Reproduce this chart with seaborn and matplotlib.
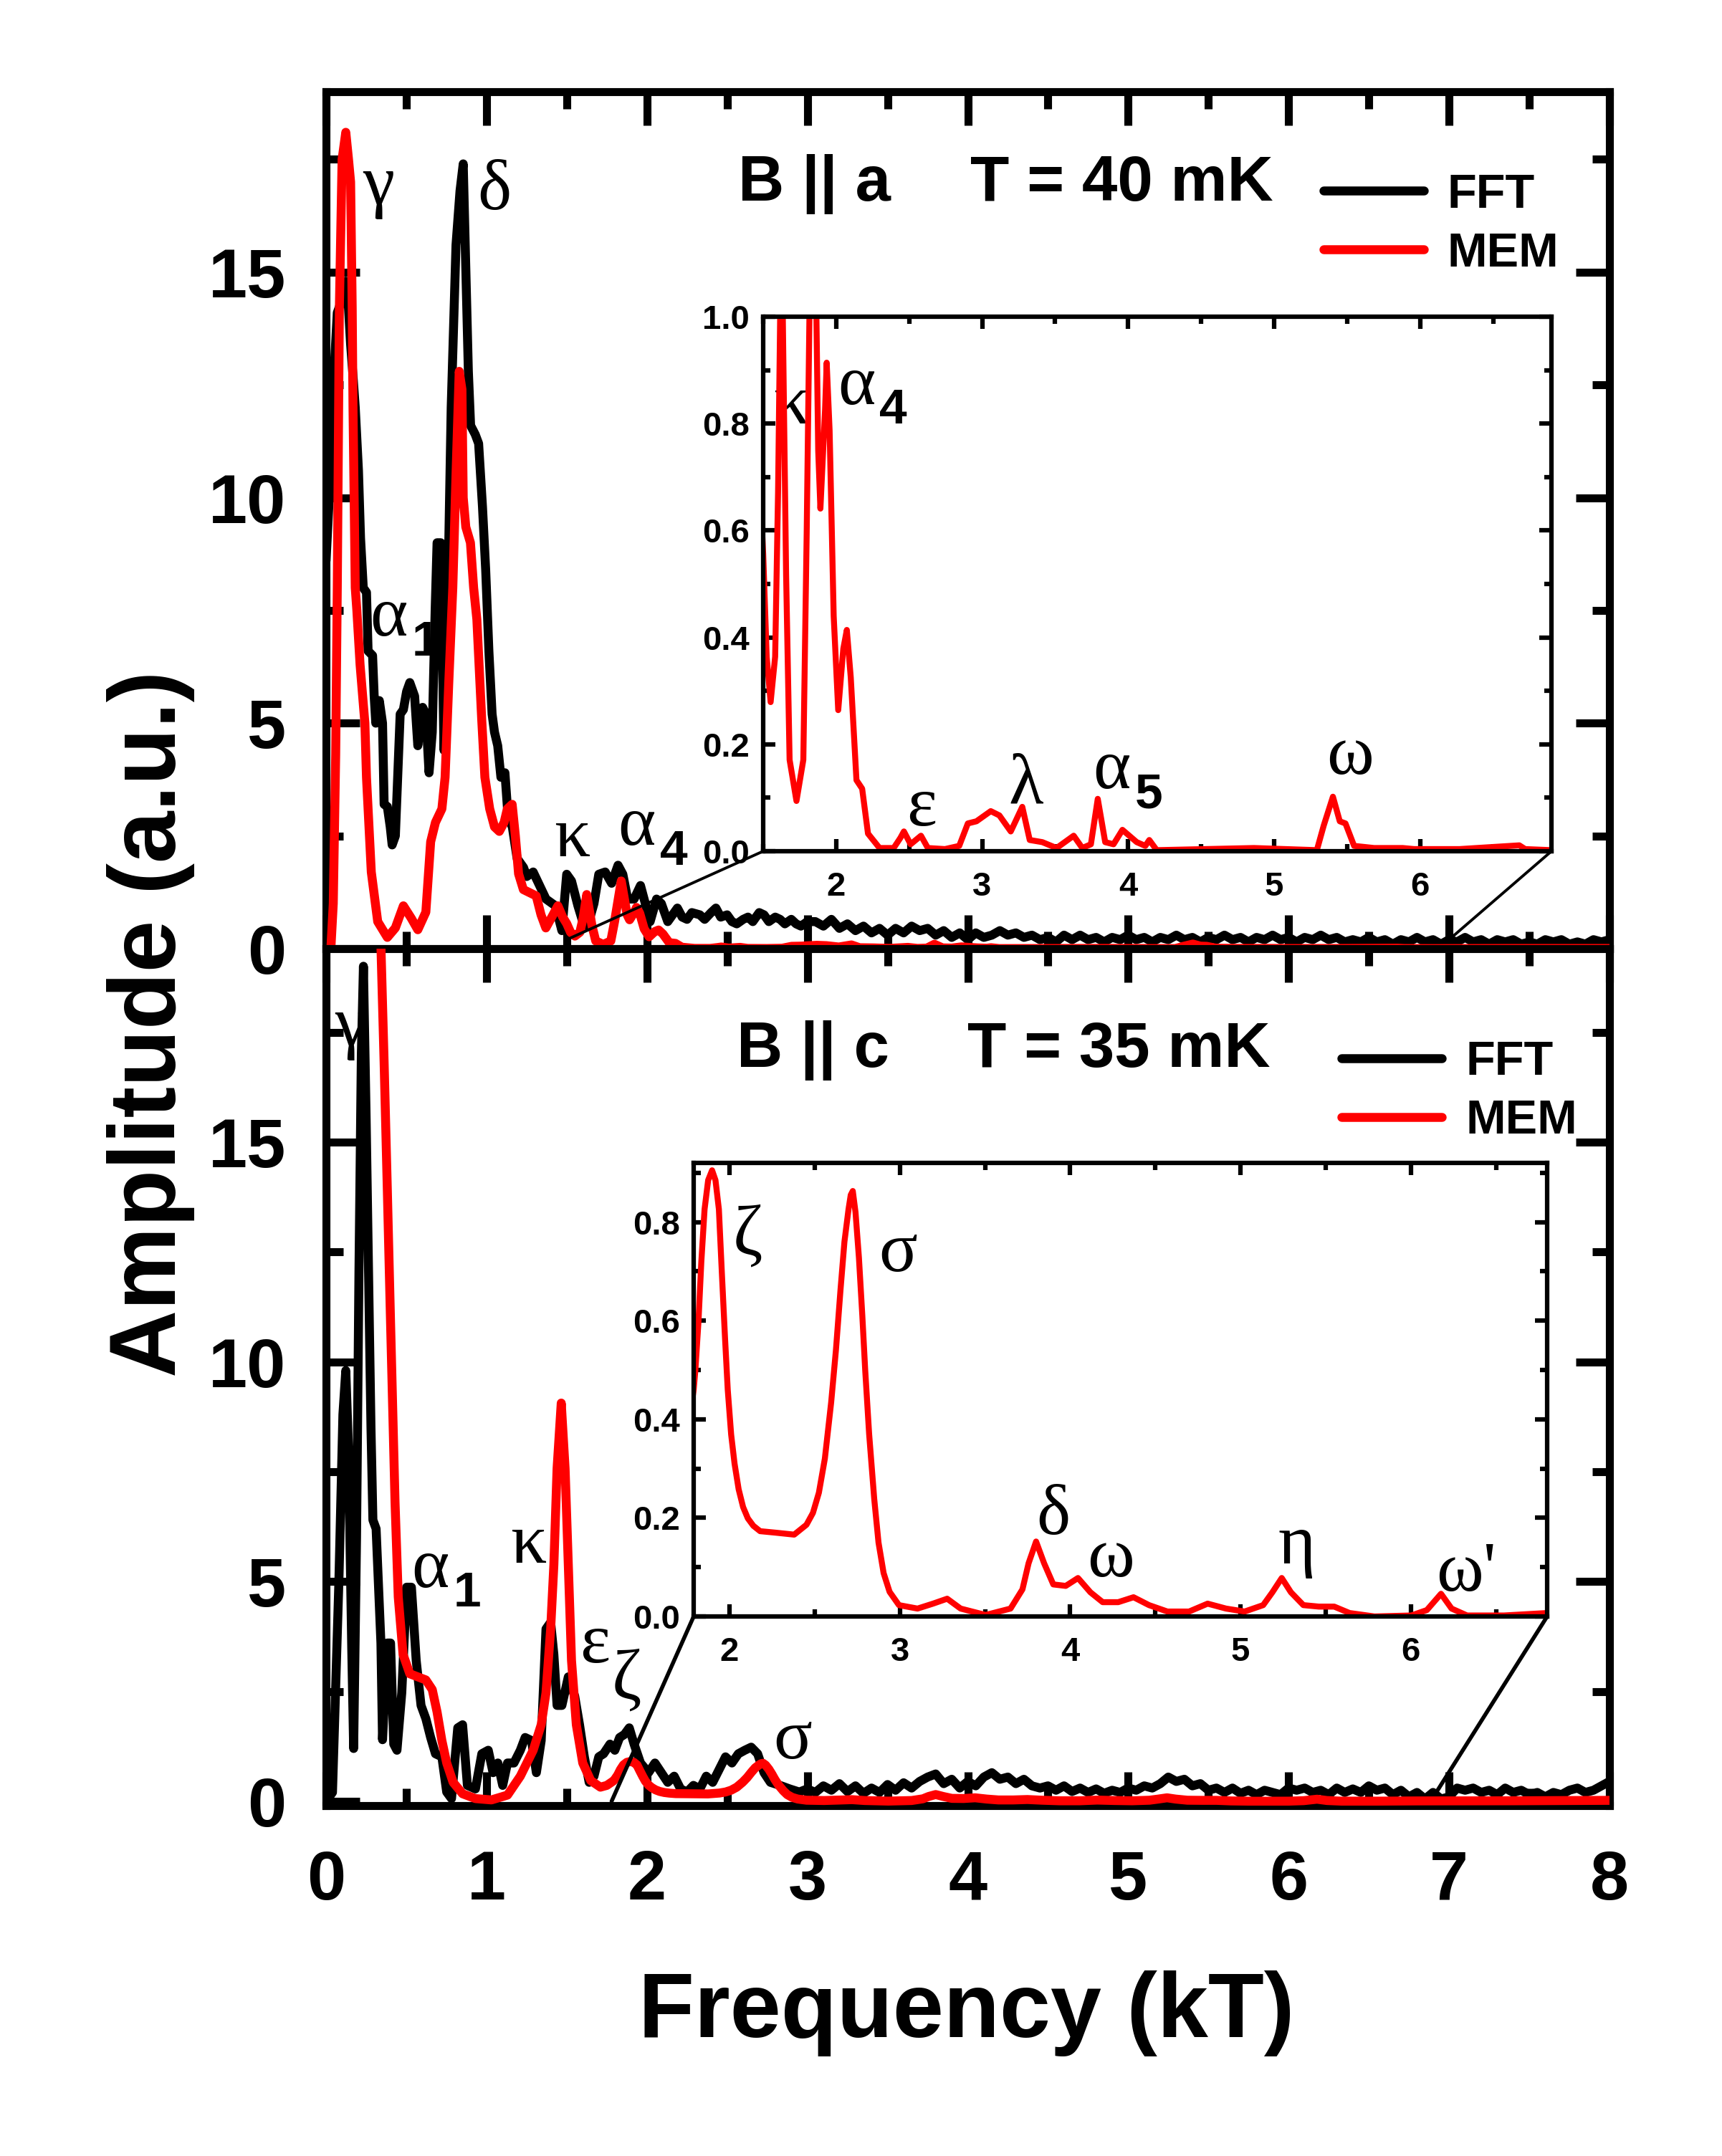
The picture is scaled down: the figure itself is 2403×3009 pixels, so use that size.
import matplotlib
matplotlib.use("Agg")
import matplotlib.pyplot as plt
import seaborn as sns
from matplotlib.patches import ConnectionPatch
from matplotlib.ticker import MultipleLocator

# ---------------- data ----------------
# Panel (a): B || a, T = 40 mK
top_fft_x = [0.000, 0.020, 0.035, 0.050, 0.070, 0.090, 0.110, 0.123, 0.140, 0.153, 0.170, 0.182, 0.202, 0.215,
             0.232, 0.252, 0.262, 0.290, 0.300, 0.310, 0.332, 0.352, 0.362, 0.382, 0.400, 0.412, 0.432, 0.462,
             0.482, 0.502, 0.522, 0.552, 0.572, 0.602, 0.622, 0.642, 0.662, 0.680, 0.692, 0.715, 0.735, 0.760,
             0.780, 0.810, 0.835, 0.855, 0.871, 0.887, 0.901, 0.930, 0.951, 0.975, 0.995, 1.015, 1.035, 1.050,
             1.070, 1.090, 1.115, 1.135, 1.161, 1.191, 1.231, 1.251, 1.291, 1.331, 1.371, 1.430, 1.470, 1.500,
             1.530, 1.570, 1.600, 1.630, 1.670, 1.700, 1.740, 1.780, 1.820, 1.850, 1.880, 1.920, 1.960, 1.990,
             2.020, 2.060, 2.090, 2.130, 2.160, 2.190, 2.220, 2.250, 2.280, 2.330, 2.360, 2.400, 2.430, 2.460,
             2.500, 2.530, 2.560, 2.600, 2.630, 2.660, 2.700, 2.730, 2.760, 2.800, 2.830, 2.860, 2.900, 2.930,
             2.960, 3.000, 3.030,
             3.05, 3.10, 3.15, 3.20, 3.25, 3.30, 3.35, 3.40, 3.45, 3.50, 3.55, 3.60, 3.65, 3.70, 3.75, 3.80,
             3.85, 3.90, 3.95, 4.00, 4.05, 4.10, 4.15, 4.20, 4.25, 4.30, 4.35, 4.40, 4.45, 4.50, 4.55, 4.60,
             4.65, 4.70, 4.75, 4.80, 4.85, 4.90, 4.95, 5.00, 5.05, 5.10, 5.15, 5.20, 5.25, 5.30, 5.35, 5.40,
             5.45, 5.50, 5.55, 5.60, 5.65, 5.70, 5.75, 5.80, 5.85, 5.90, 5.95, 6.00, 6.05, 6.10, 6.15, 6.20,
             6.25, 6.30, 6.35, 6.40, 6.45, 6.50, 6.55, 6.60, 6.65, 6.70, 6.75, 6.80, 6.85, 6.90, 6.95, 7.00,
             7.05, 7.10, 7.15, 7.20, 7.25, 7.30, 7.35, 7.40, 7.45, 7.50, 7.55, 7.60, 7.65, 7.70, 7.75, 7.80,
             7.85, 7.90, 7.95, 8.00]
top_fft_y = [8.6, 10.0, 11.2, 12.8, 14.1, 14.3, 14.7, 14.8, 14.2, 13.4, 12.6, 12.0, 10.6, 9.1,
             8.0, 7.9, 6.6, 6.5, 5.6, 5.0, 5.5, 5.0, 3.2, 3.15, 2.7, 2.3, 2.5, 5.2,
             5.3, 5.7, 5.9, 5.6, 4.5, 5.35, 5.2, 3.9, 4.8, 7.5, 9.0, 9.0, 4.4, 8.0,
             12.0, 15.6, 16.8, 17.4, 15.1, 12.8, 11.6, 11.4, 11.2, 9.8, 8.4, 6.6, 5.2, 4.8,
             4.5, 3.8, 3.9, 2.9, 2.7, 2.0, 1.8, 1.6, 1.7, 1.4, 1.1, 0.95, 0.4, 1.65,
             1.5, 0.95, 0.6, 0.5, 1.0, 1.65, 1.7, 1.45, 1.85, 1.65, 1.1, 1.1, 1.4, 1.0,
             0.6, 1.1, 1.0, 0.6, 0.75, 0.9, 0.7, 0.65, 0.8, 0.75, 0.65, 0.8, 0.9, 0.7,
             0.75, 0.6, 0.55, 0.65, 0.7, 0.6, 0.8, 0.75, 0.6, 0.7, 0.65, 0.55, 0.65, 0.55,
             0.5, 0.6, 0.6,
             0.60, 0.50, 0.65, 0.45, 0.55, 0.40, 0.50, 0.35, 0.45, 0.30, 0.45, 0.35, 0.50, 0.40, 0.45, 0.30,
             0.40, 0.25, 0.35, 0.20, 0.35, 0.25, 0.30, 0.40, 0.30, 0.35, 0.25, 0.30, 0.20, 0.25, 0.15, 0.30,
             0.20, 0.30, 0.20, 0.25, 0.15, 0.25, 0.20, 0.30, 0.20, 0.25, 0.15, 0.25, 0.20, 0.30, 0.20, 0.25,
             0.15, 0.25, 0.20, 0.30, 0.20, 0.25, 0.15, 0.25, 0.20, 0.30, 0.20, 0.25, 0.15, 0.25, 0.20, 0.30,
             0.20, 0.25, 0.15, 0.20, 0.15, 0.25, 0.15, 0.20, 0.10, 0.20, 0.15, 0.25, 0.15, 0.20, 0.10, 0.20,
             0.15, 0.25, 0.15, 0.20, 0.10, 0.20, 0.15, 0.20, 0.10, 0.15, 0.10, 0.20, 0.15, 0.20, 0.10, 0.15,
             0.10, 0.20, 0.15, 0.20]

top_mem_x = [0.030, 0.045, 0.060, 0.070, 0.083, 0.100, 0.123, 0.140, 0.153, 0.163, 0.168, 0.182, 0.192, 0.212,
             0.242, 0.252, 0.282, 0.322, 0.382, 0.432, 0.482, 0.532, 0.572, 0.622, 0.652, 0.682, 0.722, 0.742,
             0.765, 0.790, 0.810, 0.830, 0.847, 0.855, 0.871, 0.900, 0.920, 0.940, 0.970, 0.990, 1.020, 1.050,
             1.080, 1.110, 1.130, 1.160, 1.180, 1.200, 1.230, 1.270, 1.310, 1.340, 1.370, 1.410, 1.445, 1.475,
             1.500, 1.524, 1.551, 1.582, 1.602, 1.625, 1.657, 1.681, 1.728, 1.775, 1.798, 1.840, 1.877, 1.892,
             1.924, 1.935, 1.955, 1.983, 2.014, 2.049, 2.073, 2.100, 2.139, 2.178, 2.218, 2.297, 2.394, 2.440,
             2.464, 2.510, 2.581, 2.628, 2.745, 2.843, 2.902, 2.961, 3.059, 3.118, 3.196, 3.275, 3.326, 3.412,
             3.510, 3.627, 3.686, 3.745, 3.792, 3.843, 3.900, 3.961, 4.059, 4.118, 4.145, 4.196, 4.862, 5.293,
             5.340, 5.403, 5.450, 5.489, 5.548, 5.685, 5.881, 5.960, 6.270, 6.680, 6.720, 6.900, 7.400, 8.000]
top_mem_y = [0.0, 1.0, 4.3, 8.0, 14.2, 17.5, 18.1, 17.5, 17.0, 14.2, 12.0, 8.0, 7.5, 6.3,
             5.0, 3.8, 1.7, 0.6, 0.25, 0.46, 0.95, 0.67, 0.42, 0.81, 2.37, 2.8, 3.1, 3.8,
             5.9, 8.0, 10.5, 12.8, 12.4, 10.0, 9.35, 9.0, 8.0, 7.3, 5.1, 3.8, 3.1, 2.7,
             2.6, 2.8, 3.1, 3.2, 2.5, 1.66, 1.31, 1.24, 1.17, 0.75, 0.46, 0.72, 0.95, 0.70,
             0.556, 0.364, 0.279, 0.364, 0.672, 1.20, 0.518, 0.171, 0.094, 0.171, 0.595, 1.50, 0.749, 0.641,
             0.826, 0.914, 0.787, 0.440, 0.264, 0.379, 0.414, 0.325, 0.133, 0.117, 0.033, 0.006, 0.006, 0.025,
             0.037, 0.013, 0.029, 0.006, 0.004, 0.010, 0.052, 0.056, 0.075, 0.067, 0.037, 0.083, 0.021, 0.017,
             0.006, 0.029, 0.006, 0.013, 0.098, 0.017, 0.013, 0.040, 0.017, 0.010, 0.021, 0.002, 0.006, 0.002,
             0.048, 0.102, 0.056, 0.052, 0.010, 0.006, 0.006, 0.004, 0.004, 0.011, 0.004, 0.002, 0.005, 0.005]

# Panel (c): B || c, T = 35 mK
bot_fft_x = [0.000, 0.040, 0.080, 0.105, 0.123, 0.140, 0.160, 0.172, 0.190, 0.205, 0.220, 0.233, 0.250, 0.265,
             0.280, 0.292, 0.312, 0.342, 0.352, 0.382, 0.402, 0.422, 0.442, 0.472, 0.502, 0.532, 0.562, 0.592,
             0.622, 0.652, 0.682, 0.722, 0.752, 0.782, 0.821, 0.851, 0.881, 0.931, 0.971, 1.011, 1.041, 1.071,
             1.101, 1.131, 1.171, 1.211, 1.241, 1.281, 1.311, 1.341, 1.371, 1.400, 1.420, 1.440, 1.470, 1.510,
             1.550, 1.580, 1.610, 1.640, 1.670, 1.700, 1.730, 1.770, 1.800, 1.830, 1.860, 1.890, 1.920, 1.960,
             2.010, 2.050, 2.090, 2.130, 2.170, 2.210, 2.250, 2.290, 2.330, 2.370, 2.410, 2.450, 2.490, 2.530,
             2.570, 2.610, 2.650, 2.690, 2.730, 2.770, 2.830, 2.890, 2.950,
             3.00, 3.05, 3.10, 3.15, 3.20, 3.25, 3.30, 3.35, 3.40, 3.45, 3.50, 3.55, 3.60, 3.65, 3.70, 3.75,
             3.80, 3.85, 3.90, 3.95, 4.00, 4.05, 4.10, 4.15, 4.20, 4.25, 4.30, 4.35, 4.40, 4.45, 4.50, 4.55,
             4.60, 4.65, 4.70, 4.75, 4.80, 4.85, 4.90, 4.95, 5.00, 5.05, 5.10, 5.15, 5.20, 5.25, 5.30, 5.35,
             5.40, 5.45, 5.50, 5.55, 5.60, 5.65, 5.70, 5.75, 5.80, 5.85, 5.90, 5.95, 6.00, 6.05, 6.10, 6.15,
             6.20, 6.25, 6.30, 6.35, 6.40, 6.45, 6.50, 6.55, 6.60, 6.65, 6.70, 6.75, 6.80, 6.85, 6.90, 6.95,
             7.00, 7.05, 7.10, 7.15, 7.20, 7.25, 7.30, 7.35, 7.40, 7.45, 7.50, 7.55, 7.60, 7.65, 7.70, 7.75,
             7.80, 7.85, 7.90, 7.95, 8.00]
bot_fft_y = [0.0, 0.2, 5.0, 8.8, 9.8, 8.0, 3.5, 1.2, 6.0, 12.0, 17.0, 19.0, 15.5, 12.0,
             8.5, 6.4, 6.2, 3.6, 1.4, 3.6, 3.6, 1.3, 1.16, 2.47, 4.87, 4.87, 3.2, 2.18,
             1.88, 1.45, 1.08, 1.01, 0.21, 0.06, 1.67, 1.74, 0.36, 0.28, 1.08, 1.16, 0.65, 0.87,
             0.36, 0.87, 0.87, 1.16, 1.45, 1.38, 0.65, 1.38, 3.92, 4.07, 3.34, 2.18, 2.18, 2.83,
             2.39, 1.74, 1.01, 0.43, 0.57, 1.01, 1.08, 1.30, 1.16, 1.45, 1.52, 1.67, 1.30, 0.87,
             0.65, 0.87, 0.65, 0.43, 0.57, 0.28, 0.21, 0.36, 0.28, 0.57, 0.43, 0.72, 1.01, 0.87,
             1.08, 1.16, 1.23, 1.08, 0.65, 0.43, 0.36, 0.28, 0.21,
             0.28, 0.20, 0.35, 0.25, 0.40, 0.22, 0.35, 0.18, 0.30, 0.20, 0.38, 0.25, 0.42, 0.30, 0.45, 0.55,
             0.62, 0.40, 0.50, 0.30, 0.45, 0.35, 0.55, 0.65, 0.50, 0.55, 0.40, 0.50, 0.35, 0.30, 0.35, 0.25,
             0.35, 0.22, 0.30, 0.20, 0.28, 0.18, 0.25, 0.20, 0.30, 0.25, 0.35, 0.30, 0.40, 0.55, 0.45, 0.50,
             0.35, 0.40, 0.25, 0.30, 0.20, 0.30, 0.18, 0.25, 0.15, 0.25, 0.20, 0.15, 0.30, 0.25, 0.30, 0.20,
             0.25, 0.15, 0.30, 0.20, 0.28, 0.20, 0.35, 0.25, 0.30, 0.15, 0.25, 0.10, 0.20, 0.05, 0.20, 0.05,
             0.10, 0.30, 0.25, 0.30, 0.20, 0.25, 0.15, 0.30, 0.20, 0.25, 0.15, 0.20, 0.10, 0.20, 0.15, 0.25,
             0.30, 0.20, 0.25, 0.35, 0.45]

bot_mem_x = [0.330, 0.342, 0.362, 0.382, 0.402, 0.415, 0.430, 0.450, 0.480, 0.522, 0.572, 0.622, 0.662, 0.692,
             0.722, 0.752, 0.792, 0.851, 0.931, 1.031, 1.131, 1.211, 1.291, 1.341, 1.371, 1.400, 1.420, 1.440,
             1.466, 1.490, 1.510, 1.530, 1.560, 1.600, 1.650, 1.710, 1.750,
             1.790, 1.800, 1.818, 1.835, 1.854, 1.875, 1.898, 1.918, 1.938, 1.955, 1.974, 1.990, 2.010, 2.030,
             2.054, 2.080, 2.108, 2.140, 2.180, 2.270, 2.380, 2.452, 2.490, 2.525, 2.560, 2.597, 2.625, 2.652,
             2.675, 2.699, 2.712, 2.724, 2.740, 2.760, 2.780, 2.797, 2.820, 2.850, 2.875, 2.905, 2.940, 2.995,
             3.104, 3.195, 3.278, 3.357, 3.504, 3.650, 3.720, 3.756, 3.800, 3.847,
             3.901, 3.974, 4.046, 4.119, 4.191, 4.282, 4.372, 4.463, 4.571, 4.698, 4.807, 4.915, 5.024, 5.133,
             5.187, 5.242, 5.296, 5.369, 5.460, 5.550, 5.640, 5.786, 6.003, 6.094, 6.177, 6.239, 6.330, 6.547,
             6.800, 7.400, 8.000]
bot_mem_y = [21.0, 19.47, 16.8, 13.9, 10.9, 9.0, 6.8, 4.65, 3.34, 2.9, 2.83, 2.76, 2.54, 2.03,
             1.38, 0.87, 0.43, 0.17, 0.06, 0.03, 0.14, 0.57, 1.16, 1.74, 2.47, 3.92, 5.38, 7.57,
             9.06, 7.57, 5.38, 3.2, 1.74, 0.87, 0.47, 0.32, 0.36,
             0.460, 0.500, 0.597, 0.720, 0.826, 0.885, 0.905, 0.885, 0.826, 0.700, 0.565, 0.460, 0.369, 0.310,
             0.258, 0.222, 0.199, 0.184, 0.173, 0.170, 0.166, 0.186, 0.210, 0.251, 0.320, 0.434, 0.540, 0.663,
             0.760, 0.826, 0.855, 0.863, 0.820, 0.728, 0.610, 0.499, 0.370, 0.238, 0.150, 0.088, 0.050, 0.023,
             0.016, 0.026, 0.036, 0.016, 0.003, 0.016, 0.055, 0.108, 0.152, 0.108,
             0.065, 0.062, 0.078, 0.049, 0.029, 0.029, 0.039, 0.023, 0.010, 0.010, 0.026, 0.016, 0.010, 0.023,
             0.049, 0.078, 0.049, 0.023, 0.020, 0.020, 0.007, 0.000, 0.002, 0.013, 0.046, 0.016, 0.002, 0.002,
             0.007, 0.010, 0.020]

x_ticks = [0, 1, 2, 3, 4, 5, 6, 7, 8]
y_ticks = [0, 5, 10, 15]
series_names = ["FFT", "MEM"]
series_colors = ["black", "#ff0000"]

# ---------------- style ----------------
sns.set_theme(style="ticks")
plt.rcParams.update({
    "font.family": ["Liberation Sans", "DejaVu Sans"],
    "font.weight": "bold",
    "axes.edgecolor": "black",
    "xtick.color": "black",
    "ytick.color": "black",
    "text.color": "black",
    "axes.labelcolor": "black",
    "axes.facecolor": "white",
    "figure.facecolor": "white",
})
SERIF = ["Liberation Serif", "DejaVu Serif"]

W, H = 2403, 3009
fig = plt.figure(figsize=(W / 100, H / 100), dpi=100)

L, R = 455, 2246
ax_top = fig.add_axes([L / W, 1 - 1324 / H, (R - L) / W, (1324 - 128) / H])
ax_bot = fig.add_axes([L / W, 1 - 2520 / H, (R - L) / W, (2520 - 1324) / H])
in_top = fig.add_axes([1065 / W, 1 - 1188 / H, (2165 - 1065) / W, (1188 - 442) / H])
in_bot = fig.add_axes([968 / W, 1 - 2256 / H, (2159 - 968) / W, (2256 - 1623) / H])


def style_main(ax, ylim, show_xlabels):
    ax.set_xlim(0, 8)
    ax.set_ylim(*ylim)
    ax.set_xticks(x_ticks)
    ax.set_yticks(y_ticks)
    ax.xaxis.set_minor_locator(MultipleLocator(0.5))
    ax.yaxis.set_minor_locator(MultipleLocator(2.5))
    ax.tick_params(which="major", direction="in", length=34, width=8, top=True, right=True,
                   labelsize=70, pad=40)
    ax.tick_params(axis="x", which="major", pad=44)
    ax.tick_params(which="minor", direction="in", length=17, width=8, top=True, right=True)
    ax.tick_params(axis="x", labelbottom=show_xlabels)
    for s in ax.spines.values():
        s.set_linewidth(8)
        s.set_color("black")
    ax.set_xlabel("")
    ax.set_ylabel("")


def style_inset(ax, xlim, ylim, padx, pady):
    ax.set_xlim(*xlim)
    ax.set_ylim(*ylim)
    ax.xaxis.set_major_locator(MultipleLocator(1))
    ax.xaxis.set_minor_locator(MultipleLocator(0.5))
    ax.yaxis.set_major_locator(MultipleLocator(0.2))
    ax.yaxis.set_minor_locator(MultipleLocator(0.1))
    ax.yaxis.set_major_formatter(matplotlib.ticker.FormatStrFormatter("%.1f"))
    ax.tick_params(which="major", direction="in", length=12, width=4.5, top=True, right=True,
                   labelsize=34)
    ax.tick_params(axis="x", which="major", pad=padx)
    ax.tick_params(axis="y", which="major", pad=pady)
    ax.tick_params(which="minor", direction="in", length=7, width=4.5, top=True, right=True)
    for s in ax.spines.values():
        s.set_linewidth(4.5)
        s.set_color("black")
    ax.set_xlabel("")
    ax.set_ylabel("")
    ax.set_zorder(5)


def greek(ax, x, y, sym, sub=None, size=72, subsize=50):
    ax.text(x, y, sym, fontsize=size, family=SERIF, fontweight="normal",
            ha="left", va="baseline", zorder=1)
    if sub is not None:
        ax.annotate(sub, xy=(x, y), xycoords="data", xytext=(42, -20), textcoords="offset points",
                    fontsize=subsize, fontweight="bold", ha="left", va="baseline", zorder=1)


# ---------------- main panels ----------------
for ax, fx, fy, mx, my in [(ax_top, top_fft_x, top_fft_y, top_mem_x, top_mem_y),
                           (ax_bot, bot_fft_x, bot_fft_y, bot_mem_x, bot_mem_y)]:
    sns.lineplot(x=fx, y=fy, ax=ax, color=series_colors[0], linewidth=9, sort=False,
                 estimator=None, label=series_names[0], zorder=2)
    sns.lineplot(x=mx, y=my, ax=ax, color=series_colors[1], linewidth=9, sort=False,
                 estimator=None, label=series_names[1], zorder=3)
    for h in ax.get_lines()[:2]:
        h.set_solid_capstyle("round")
        h.set_solid_joinstyle("round")

style_main(ax_top, (0, 19.0), False)
style_main(ax_bot, (-0.1, 19.4), True)

leg_prop = {"family": "Liberation Sans", "weight": "bold", "size": 48}
ax_top.legend(ax_top.get_lines()[:2], series_names, loc="upper left", bbox_to_anchor=(0.777, 0.905),
              frameon=False, prop=leg_prop, handlelength=2.1, handletextpad=0.5, labelspacing=0.3,
              borderaxespad=0, borderpad=0)
ax_bot.legend(ax_bot.get_lines()[:2], series_names, loc="upper left", bbox_to_anchor=(0.791, 0.893),
              frameon=False, prop=leg_prop, handlelength=2.1, handletextpad=0.5, labelspacing=0.3,
              borderaxespad=0, borderpad=0)

ax_top.text(0.321, 0.892, "B || a", transform=ax_top.transAxes, fontsize=64, fontweight="bold",
            ha="left", va="center")
ax_top.text(0.502, 0.892, "T = 40 mK", transform=ax_top.transAxes, fontsize=64, fontweight="bold",
            ha="left", va="center")
ax_bot.text(0.320, 0.881, "B || c", transform=ax_bot.transAxes, fontsize=64, fontweight="bold",
            ha="left", va="center")
ax_bot.text(0.500, 0.881, "T = 35 mK", transform=ax_bot.transAxes, fontsize=64, fontweight="bold",
            ha="left", va="center")

greek(ax_top, 0.228, 16.5, "γ")
greek(ax_top, 0.945, 16.4, "δ")
greek(ax_top, 0.273, 6.94, "α", "1")
greek(ax_top, 1.42, 2.05, "κ")
greek(ax_top, 1.82, 2.30, "α", "4")

greek(ax_bot, 0.054, 17.2, "γ")
greek(ax_bot, 0.532, 4.88, "α", "1")
greek(ax_bot, 1.15, 5.42, "κ")
greek(ax_bot, 1.58, 3.16, "ε")
greek(ax_bot, 1.78, 2.33, "ζ")
greek(ax_bot, 2.79, 0.98, "σ")

# ---------------- insets ----------------
sns.lineplot(x=top_mem_x, y=top_mem_y, ax=in_top, color=series_colors[1], linewidth=6, sort=False,
             estimator=None, legend=False)
sns.lineplot(x=bot_mem_x, y=bot_mem_y, ax=in_bot, color=series_colors[1], linewidth=6, sort=False,
             estimator=None, legend=False)
for a in (in_top, in_bot):
    for h in a.get_lines():
        h.set_solid_joinstyle("round")
style_inset(in_top, (1.5, 6.9), (0, 1.0), 20, 14)
style_inset(in_bot, (1.79, 6.8), (0, 0.92), 20, 14)

greek(in_top, 1.57, 0.80, "κ")
greek(in_top, 2.01, 0.837, "α", "4")
greek(in_top, 2.48, 0.048, "ε")
greek(in_top, 3.18, 0.091, "λ")
greek(in_top, 3.76, 0.118, "α", "5")
greek(in_top, 5.36, 0.145, "ω")

greek(in_bot, 2.02, 0.735, "ζ")
greek(in_bot, 2.875, 0.70, "σ")
greek(in_bot, 3.80, 0.167, "δ")
greek(in_bot, 4.10, 0.082, "ω")
greek(in_bot, 5.22, 0.108, "η")
greek(in_bot, 6.15, 0.053, "ω'")

# connector lines from insets to main axes
for inset, ax, pts, lw in [(in_top, ax_top, [((0, 0), (1.5, 0.2)), ((1, 0), (7.0, 0.2))], 2.8),
                           (in_bot, ax_bot, [((0, 0), (1.78, 0.0)), ((1, 0), (6.92, 0.2))], 4.0)]:
    for a, b in pts:
        con = ConnectionPatch(xyA=a, coordsA=inset.transAxes, xyB=b, coordsB=ax.transData,
                              color="black", linewidth=lw, zorder=4)
        fig.add_artist(con)

fig.text(0.0878, 0.525, "Amplitude (a.u.)", rotation=90, ha="center", va="center",
         fontsize=94, fontweight="bold")
fig.text(0.5614, 0.066, "Frequency (kT)", ha="center", va="center", fontsize=92, fontweight="bold")

fig.savefig("out.png", dpi=100)
